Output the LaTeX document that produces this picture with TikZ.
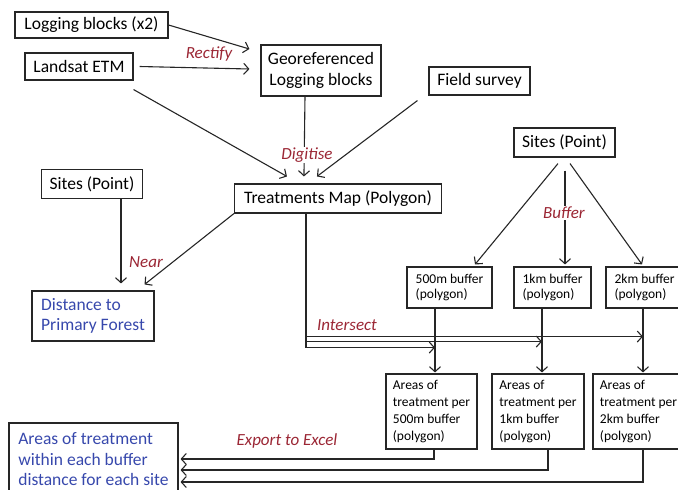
\documentclass[tikz,border=0pt]{standalone}
\usepackage{fontspec}
\setmainfont{Carlito}
\usetikzlibrary{arrows.meta}
\usetikzlibrary{calc}
\definecolor{oplabred}{RGB}{155,38,52}
\definecolor{outblue}{RGB}{55,72,172}

\begin{document}
\begin{tikzpicture}[x=1pt, y=-1pt,
    box/.style={draw=black!85, line width=1.1pt, inner sep=0pt, align=left,
      font=\fontsize{17.5}{20.5}\selectfont},
    sbox/.style={box, font=\fontsize{13.5}{15}\selectfont},
    abox/.style={box, font=\fontsize{13.5}{17}\selectfont},
    oplabel/.style={text=oplabred, inner sep=1pt, font=\fontsize{17}{20}\selectfont\itshape},
    conn/.style={line width=1.1pt, draw=black!85},
    arr/.style={conn, -{Straight Barb[length=5pt,width=11pt]}}]
    \useasboundingbox (0,0) rectangle (678,490);
    %\draw[step=10, gray, very thin] (0,0) grid (678,490);

    % inputs
    \node[box, minimum width=153, minimum height=26] (logb) at (91.5,25) {Logging blocks (x2)};
    \node[box, minimum width=108, minimum height=27] (lands) at (79,66.5) {Landsat ETM};
    \node[box, align=center, minimum width=120, minimum height=51] (geo) at (321,70.5) {Georeferenced\\Logging blocks};
    \node[box, minimum width=101, minimum height=28] (field) at (479.5,81) {Field survey};
    \node[box, minimum width=207, minimum height=29] (tmap) at (338,198.5) {Treatments Map (Polygon)};
    \node[box, minimum width=101, minimum height=29] (sitesl) at (92,184) {Sites (Point)};
    \node[box, minimum width=101, minimum height=29] (sitesr) at (564.5,142.5) {Sites (Point)};
    \node[box, text=outblue, minimum width=122, minimum height=50] (dist) at (93,316) {Distance to\\Primary Forest};

    % buffers and areas
    \node[sbox, minimum width=85, minimum height=41] (b500) at (449.5,287.5) {500m buffer\\(polygon)};
    \node[sbox, minimum width=77, minimum height=41] (b1k) at (552.5,287.5) {1km buffer\\(polygon)};
    \node[sbox, minimum width=77, minimum height=41] (b2k) at (644.5,287.5) {2km buffer\\(polygon)};
    \node[abox, minimum width=91, minimum height=75] (a500) at (431.5,411.5) {Areas of\\treatment per\\500m buffer\\(polygon)};
    \node[abox, minimum width=92, minimum height=75] (a1k) at (538,411.5) {Areas of\\treatment per\\1km buffer\\(polygon)};
    \node[abox, minimum width=91, minimum height=75] (a2k) at (638.5,411.5) {Areas of\\treatment per\\2km buffer\\(polygon)};
    \node[box, text=outblue, minimum width=169, minimum height=73] (areas) at (93.5,459.5) {Areas of treatment\\within each buffer\\distance for each site};

    \coordinate (tm) at ($(tmap.south west)+(72,0)$);
    \coordinate (v500) at ($(b500.south)+(-14.5,0)$);
    \coordinate (v1k) at ($(b1k.south)+(-10.5,0)$);
    \coordinate (v2k) at ($(b2k.south)+(-1.5,0)$);
    \coordinate (e500) at ($(a500.south)+(2.5,0)$);
    \coordinate (e1k) at ($(a1k.south)+(10,0)$);
    \coordinate (e2k) at ($(a2k.south)+(4.5,0)$);

    \draw[arr] (logb.east) -- ($(geo.west)+(-11,-21.5)$);
    \draw[arr] ($(lands.east)+(6,0)$) -- ($(geo.west)+(-11,-1.5)$);
    \draw[arr] ($(lands.south east)+(0,9)$) -- ($(tmap.north west)+(53,-7)$);
    \draw[arr] ($(geo.south)+(-16,0)$) -- ($(tmap.north west)+(70,-7)$);
    \draw[arr] ($(field.south west)+(-11,5)$) -- ($(tmap.north west)+(83,-7)$);
    \draw[arr] ($(sitesl.south)+(29,0)$) -- ($(dist.north)+(28,-7)$);
    \draw[arr] (tmap.south west) -- ($(dist.north east)+(-10,-6)$);
    \draw[arr] ($(sitesr.south)+(-6.5,6)$) -- ($(b500.north)+(25.5,-2)$);
    \draw[arr] ($(sitesr.south)+(0.5,13)$) -- ($(b1k.north)+(12.5,-2)$);
    \draw[arr] ($(sitesr.south)+(5.5,6)$) -- ($(b2k.north)+(-2.5,-2)$);

    \draw[arr] (tm) |- ($(v2k)+(0,28)$);
    \draw[arr] (tm) |- ($(v1k)+(0,33)$);
    \draw[arr] (tm) |- ($(v500)+(0,39)$);
    \draw[arr] (v500) -- ($(v500 |- a500.north)+(0,-1)$);
    \draw[arr] (v1k) -- ($(v1k |- a1k.north)+(0,-1)$);
    \draw[arr] (v2k) -- ($(v2k |- a2k.north)+(0,-1)$);

    \draw[arr] (e500) |- ($(areas.east)+(2,-0.5)$);
    \draw[arr] (e1k) |- ($(areas.east)+(2,10.5)$);
    \draw[arr] (e2k) |- ($(areas.east)+(2,22.5)$);

    % operations
    \node[oplabel] (rectify) at (209,54) {Rectify};
    \node[oplabel, fill=white] (digitise) at (307,155) {Digitise};
    \node[oplabel] (near) at (146,262) {Near};
    \node[oplabel, fill=white] (buffer) at (564,213) {Buffer};
    \node[oplabel] (intersect) at (347,325) {Intersect};
    \node[oplabel] (export) at (287,441) {Export to Excel};
\end{tikzpicture}
\end{document}
